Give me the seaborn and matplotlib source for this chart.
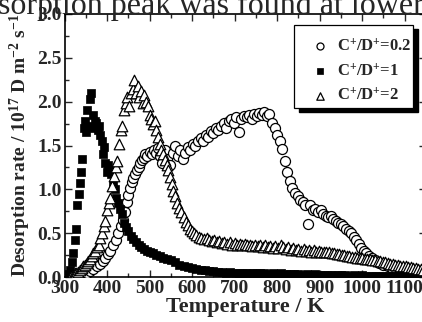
import matplotlib
matplotlib.use("Agg")
import matplotlib.pyplot as plt
from matplotlib.patches import Rectangle
import seaborn as sns
import pandas as pd
from matplotlib.ticker import MultipleLocator, FormatStrFormatter

# Thermal desorption spectra of D for three C+/D+ ratios
labels = ["C$^{+}$/D$^{+}$=0.2", "C$^{+}$/D$^{+}$=1", "C$^{+}$/D$^{+}$=2"]

temp_02 = [320, 328, 336, 344, 352, 360, 368, 376, 384, 390, 396, 402, 408, 414, 420,
           426, 432, 437, 442, 446, 450, 454, 458, 462, 466, 470, 474, 478, 482, 486,
           490, 495, 500, 505, 510, 515, 520, 525, 530, 536, 542, 548, 554, 560, 566,
           572, 578, 584, 590, 596, 602, 608, 614, 620, 626, 632, 638, 644, 650, 656,
           662, 668, 674, 680, 686, 692, 698, 704, 710, 716, 722, 728, 734, 740, 746,
           752, 758, 764, 770, 776, 782, 788, 794, 800, 806, 812, 818, 824, 830, 836,
           842, 848, 854, 860, 866, 872, 878, 884, 890, 896, 902, 908, 914, 920, 926,
           932, 938, 944, 950, 956, 962, 968, 974, 980, 986, 992, 998, 1004, 1010, 1016,
           1022, 1030, 1040, 1050, 1060, 1070, 1080, 1090, 1100, 1110, 1120]
rate_02 = [0.00, 0.01, 0.02, 0.03, 0.05, 0.07, 0.09, 0.12, 0.15, 0.18, 0.22, 0.26, 0.30, 0.36, 0.42,
           0.50, 0.58, 0.65, 0.74, 0.85, 0.93, 1.02, 1.08, 1.13, 1.18, 1.22, 1.25, 1.30, 1.33, 1.36,
           1.40, 1.38, 1.43, 1.40, 1.45, 1.42, 1.47, 1.38, 1.30, 1.45, 1.35, 1.28, 1.42, 1.50, 1.38,
           1.45, 1.35, 1.42, 1.48, 1.45, 1.52, 1.50, 1.55, 1.58, 1.55, 1.62, 1.60, 1.66, 1.64, 1.70,
           1.68, 1.72, 1.76, 1.70, 1.78, 1.80, 1.76, 1.82, 1.65, 1.80, 1.84, 1.82, 1.85, 1.80, 1.86,
           1.84, 1.87, 1.85, 1.88, 1.84, 1.86, 1.76, 1.70, 1.62, 1.55, 1.46, 1.32, 1.20, 1.10, 1.02,
           0.96, 0.92, 0.88, 0.86, 0.82, 0.60, 0.82, 0.76, 0.78, 0.74, 0.76, 0.72, 0.70, 0.68, 0.70,
           0.66, 0.64, 0.62, 0.60, 0.58, 0.55, 0.52, 0.50, 0.46, 0.42, 0.38, 0.33, 0.30, 0.27, 0.24,
           0.22, 0.19, 0.16, 0.14, 0.12, 0.10, 0.09, 0.08, 0.07, 0.06, 0.05]

temp_1 = [306, 310, 314, 318, 321, 324, 327, 330, 333, 336, 339, 342, 345, 348, 351,
          354, 357, 360, 363, 366, 369, 372, 375, 378, 381, 384, 387, 390, 393, 396,
          399, 402, 406, 410, 414, 418, 422, 426, 430, 435, 440, 445, 450, 456, 462,
          468, 474, 480, 487, 494, 501, 508, 516, 524, 532, 540, 550, 560, 570, 580,
          590, 600, 610, 620, 630, 640, 650, 660, 670, 680, 690, 700, 710, 720, 730,
          740, 750, 760, 770, 780, 790, 800, 810, 820, 830, 840, 850, 860, 870, 880,
          890, 900, 910, 920, 930, 940, 950, 960, 970, 980, 990, 1000, 1010, 1020, 1030,
          1040, 1050, 1060, 1070, 1080, 1090, 1100, 1110, 1120, 1130, 1140]
rate_1 = [0.01, 0.03, 0.08, 0.17, 0.27, 0.42, 0.55, 0.82, 0.95, 1.07, 1.20, 1.35, 1.70, 1.78, 1.65,
          1.90, 1.72, 2.03, 2.10, 1.85, 1.70, 1.78, 1.76, 1.68, 1.72, 1.62, 1.55, 1.40, 1.48, 1.30,
          1.20, 1.28, 1.22, 1.18, 1.05, 1.00, 0.90, 0.84, 0.78, 0.72, 0.62, 0.57, 0.52, 0.47, 0.43,
          0.40, 0.36, 0.34, 0.32, 0.30, 0.28, 0.27, 0.25, 0.24, 0.22, 0.20, 0.19, 0.17, 0.14, 0.12,
          0.11, 0.10, 0.09, 0.08, 0.08, 0.07, 0.07, 0.06, 0.06, 0.05, 0.06, 0.05, 0.05, 0.05, 0.04,
          0.05, 0.04, 0.04, 0.04, 0.03, 0.04, 0.03, 0.04, 0.03, 0.03, 0.03, 0.03, 0.02, 0.03, 0.02,
          0.03, 0.02, 0.02, 0.02, 0.02, 0.02, 0.02, 0.02, 0.01, 0.02, 0.01, 0.02, 0.01, 0.01, 0.01,
          0.01, 0.01, 0.01, 0.01, 0.01, 0.01, 0.01, 0.01, 0.01, 0.01, 0.01]

temp_2 = [312, 316, 320, 324, 328, 332, 336, 340, 344, 348, 352, 356, 360, 364, 368,
          372, 376, 380, 384, 388, 392, 396, 400, 404, 408, 412, 416, 420, 424, 428,
          432, 436, 440, 444, 448, 452, 456, 460, 464, 468, 472, 476, 480, 484, 488,
          492, 496, 500, 504, 508, 512, 516, 520, 524, 528, 532, 536, 540, 544, 548,
          552, 556, 560, 565, 570, 575, 580, 585, 590, 595, 600,
          604, 610, 616, 622, 628, 634, 640, 646, 652, 658, 664, 670, 676, 682, 688,
          694, 700, 706, 712, 718, 724, 730, 736, 742, 748, 754, 760, 766, 772, 778,
          784, 790, 796, 802, 808, 814, 820, 826, 832, 838, 844, 850, 856, 862, 868,
          874, 880, 886, 892, 898, 904, 910, 916, 922, 928, 934, 940, 946, 952, 958,
          964, 970, 976, 982, 988, 994, 1000, 1006, 1012, 1018, 1024, 1030, 1036, 1042, 1048,
          1054, 1060, 1066, 1072, 1078, 1084, 1090, 1096, 1102, 1108, 1114, 1120, 1126, 1132, 1138,
          1144]
rate_2 = [0.00, 0.01, 0.02, 0.04, 0.05, 0.06, 0.08, 0.10, 0.12, 0.14, 0.16, 0.18, 0.21, 0.24, 0.27,
          0.30, 0.34, 0.37, 0.44, 0.50, 0.58, 0.64, 0.76, 0.84, 0.90, 1.04, 1.15, 1.25, 1.32, 1.52,
          1.68, 1.72, 1.90, 1.98, 2.05, 1.95, 2.10, 2.15, 2.25, 2.10, 2.18, 2.05, 2.12, 1.98, 2.08,
          2.00, 1.95, 1.85, 1.80, 1.75, 1.78, 1.68, 1.60, 1.52, 1.45, 1.40, 1.33, 1.28, 1.22, 1.14,
          1.06, 0.98, 0.92, 0.84, 0.79, 0.74, 0.68, 0.63, 0.59, 0.55, 0.52,
          0.50, 0.48, 0.46, 0.45, 0.43, 0.44, 0.42, 0.41, 0.42, 0.40, 0.41, 0.39, 0.40, 0.38, 0.40,
          0.37, 0.39, 0.37, 0.38, 0.36, 0.38, 0.36, 0.37, 0.35, 0.37, 0.35, 0.36, 0.34, 0.36, 0.34,
          0.35, 0.33, 0.35, 0.33, 0.37, 0.34, 0.32, 0.34, 0.31, 0.33, 0.31, 0.32, 0.30, 0.32, 0.30,
          0.31, 0.29, 0.31, 0.29, 0.30, 0.28, 0.29, 0.28, 0.28, 0.27, 0.27, 0.26, 0.26, 0.25, 0.25,
          0.24, 0.24, 0.23, 0.23, 0.22, 0.22, 0.22, 0.21, 0.20, 0.20, 0.19, 0.19, 0.18, 0.18, 0.17,
          0.17, 0.16, 0.15, 0.15, 0.14, 0.14, 0.13, 0.13, 0.12, 0.11, 0.11, 0.10, 0.10, 0.09, 0.09,
          0.08]

x_ticks = [300, 400, 500, 600, 700, 800, 900, 1000, 1100]
y_ticks = [0.0, 0.5, 1.0, 1.5, 2.0, 2.5, 3.0]

sns.set_style("ticks")
plt.rcParams["font.family"] = ["Liberation Serif", "DejaVu Serif"]
plt.rcParams["font.weight"] = "bold"
plt.rcParams["mathtext.fontset"] = "custom"
plt.rcParams["mathtext.rm"] = "Liberation Serif:bold"
plt.rcParams["mathtext.it"] = "Liberation Serif:bold"
plt.rcParams["mathtext.bf"] = "Liberation Serif:bold"
plt.rcParams["mathtext.default"] = "rm"

W, H = 422, 322
fig = plt.figure(figsize=(W / 100, H / 100), dpi=100)

# running text of the page above the figure
fig.text(-0.004, 1 - 14 / H, "sorption peak was found at lower", fontsize=23,
         fontweight="normal", family="Liberation Serif", va="baseline", ha="left",
         zorder=0)

left, right, top, bottom = 64.5, 426, 14, 277
ax = fig.add_axes([left / W, 1 - bottom / H, (right - left) / W, (bottom - top) / H])
ax.patch.set_alpha(0)

df02 = pd.DataFrame({"T": temp_02, "rate": rate_02})
df1 = pd.DataFrame({"T": temp_1, "rate": rate_1})
df2 = pd.DataFrame({"T": temp_2, "rate": rate_2})

sns.scatterplot(data=df02, x="T", y="rate", marker="o", s=52, facecolor="white",
                edgecolor="black", linewidth=0.9, label=labels[0], ax=ax, zorder=3)
sns.scatterplot(data=df1, x="T", y="rate", marker="s", s=36, color="black",
                edgecolor="black", linewidth=0.5, label=labels[1], ax=ax, zorder=4)
sns.scatterplot(data=df2, x="T", y="rate", marker="^", s=58, facecolor="white",
                edgecolor="black", linewidth=0.9, label=labels[2], ax=ax, zorder=5)

ax.set_xlim(300, 1150)
ax.set_ylim(0, 3.0)
ax.set_xticks(x_ticks)
ax.set_yticks(y_ticks)
ax.xaxis.set_minor_locator(MultipleLocator(50))
ax.yaxis.set_minor_locator(MultipleLocator(0.25))
ax.yaxis.set_major_formatter(FormatStrFormatter("%.1f"))
ax.tick_params(which="both", direction="in", top=True, right=True, width=1.0)
ax.tick_params(which="major", length=5, labelsize=14, pad=2)
ax.tick_params(which="minor", length=3)
for lab in ax.get_xticklabels() + ax.get_yticklabels():
    lab.set_fontweight("bold")
for sp in ax.spines.values():
    sp.set_linewidth(1.2)
    sp.set_color("black")

ax.set_xlabel("Temperature / K", fontsize=16, fontweight="bold", labelpad=0)
ax.set_ylabel("Desorption rate / 10$^{17}$ D m$^{-2}$ s$^{-1}$", fontsize=14,
              fontweight="bold", labelpad=3)

# legend box with a solid drop shadow
bx0, by0, bx1, by1 = 294, 25, 413, 108
shadow = Rectangle(((bx0 + 5) / W, 1 - (by1 + 4) / H), (bx1 - bx0) / W, (by1 - by0) / H,
                   transform=fig.transFigure, facecolor="black", edgecolor="black",
                   zorder=9, clip_on=False)
frame = Rectangle((bx0 / W, 1 - by1 / H), (bx1 - bx0) / W, (by1 - by0) / H,
                  transform=fig.transFigure, facecolor="white", edgecolor="black",
                  linewidth=0.9, zorder=10, clip_on=False)
ax.add_patch(shadow)
ax.add_patch(frame)

leg = ax.legend(loc="upper left", bbox_to_anchor=(311.5 / W, 1 - 38 / H),
                bbox_transform=fig.transFigure, frameon=False, fontsize=12,
                markerscale=0.7, handletextpad=0.52, borderpad=0, borderaxespad=0,
                labelspacing=0.5, handlelength=1.0)
leg.set_zorder(11)
for t in leg.get_texts():
    t.set_fontweight("bold")

fig.savefig("out.png", dpi=100)
